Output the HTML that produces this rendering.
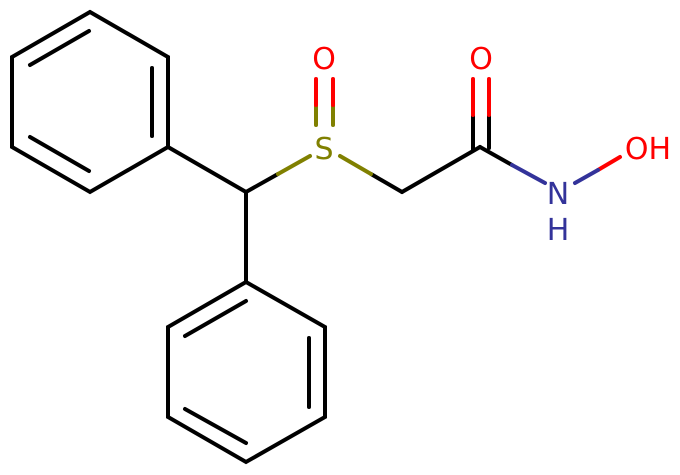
<!DOCTYPE html>
<html><head><style>html,body{margin:0;padding:0;background:#fff}svg{display:block}</style></head>
<body>
<svg width="680" height="475" viewBox="0 0 680 475" xmlns="http://www.w3.org/2000/svg">
<g stroke-width="4" stroke-linecap="round" fill="none">
<g stroke="#000">
<polyline points="90,12 168,57 168,147 90,192 12,147 12,57 90,12"/>
<line x1="30" y1="65" x2="89" y2="31"/>
<line x1="152" y1="68" x2="152" y2="136"/>
<line x1="30" y1="137" x2="89" y2="171"/>
<line x1="168" y1="147" x2="246" y2="192"/>
<line x1="246" y1="192" x2="278" y2="174"/>
<line x1="246" y1="192" x2="246" y2="282"/>
<polyline points="246,282 325,327 325,417 246,462 168,417 168,327 246,282"/>
<line x1="185" y1="336" x2="246" y2="301"/>
<line x1="309" y1="338" x2="309" y2="407"/>
<line x1="185" y1="409" x2="246" y2="443"/>
<line x1="371" y1="174" x2="402" y2="192"/>
<line x1="402" y1="192" x2="480" y2="147"/>
<line x1="473" y1="115" x2="473" y2="150"/>
<line x1="489" y1="115" x2="489" y2="148"/>
<line x1="480" y1="147" x2="512" y2="165"/>
</g>
<g stroke="#808000">
<line x1="278" y1="174" x2="310" y2="156"/>
<line x1="340" y1="156" x2="371" y2="174"/>
<line x1="316" y1="105" x2="316" y2="125"/>
<line x1="333" y1="105" x2="333" y2="125"/>
</g>
<g stroke="#f00">
<line x1="316" y1="79" x2="316" y2="105"/>
<line x1="333" y1="79" x2="333" y2="105"/>
<line x1="473" y1="79" x2="473" y2="115"/>
<line x1="489" y1="79" x2="489" y2="115"/>
<line x1="598" y1="170" x2="620" y2="157"/>
</g>
<g stroke="#33339a">
<line x1="512" y1="165" x2="545" y2="183"/>
<line x1="575" y1="183" x2="598" y2="170"/>
</g>
</g>
<g font-family="'DejaVu Sans','Liberation Sans',sans-serif" font-size="30" text-anchor="middle">
<text x="324" y="159" fill="#808000">S</text>
<text x="324" y="69" fill="#f00">O</text>
<text x="481" y="69" fill="#f00">O</text>
<text x="558" y="204" fill="#33339a">N</text>
<text x="558" y="240" fill="#33339a">H</text>
<text x="648" y="159" fill="#f00">OH</text>
</g>
</svg>
</body></html>
